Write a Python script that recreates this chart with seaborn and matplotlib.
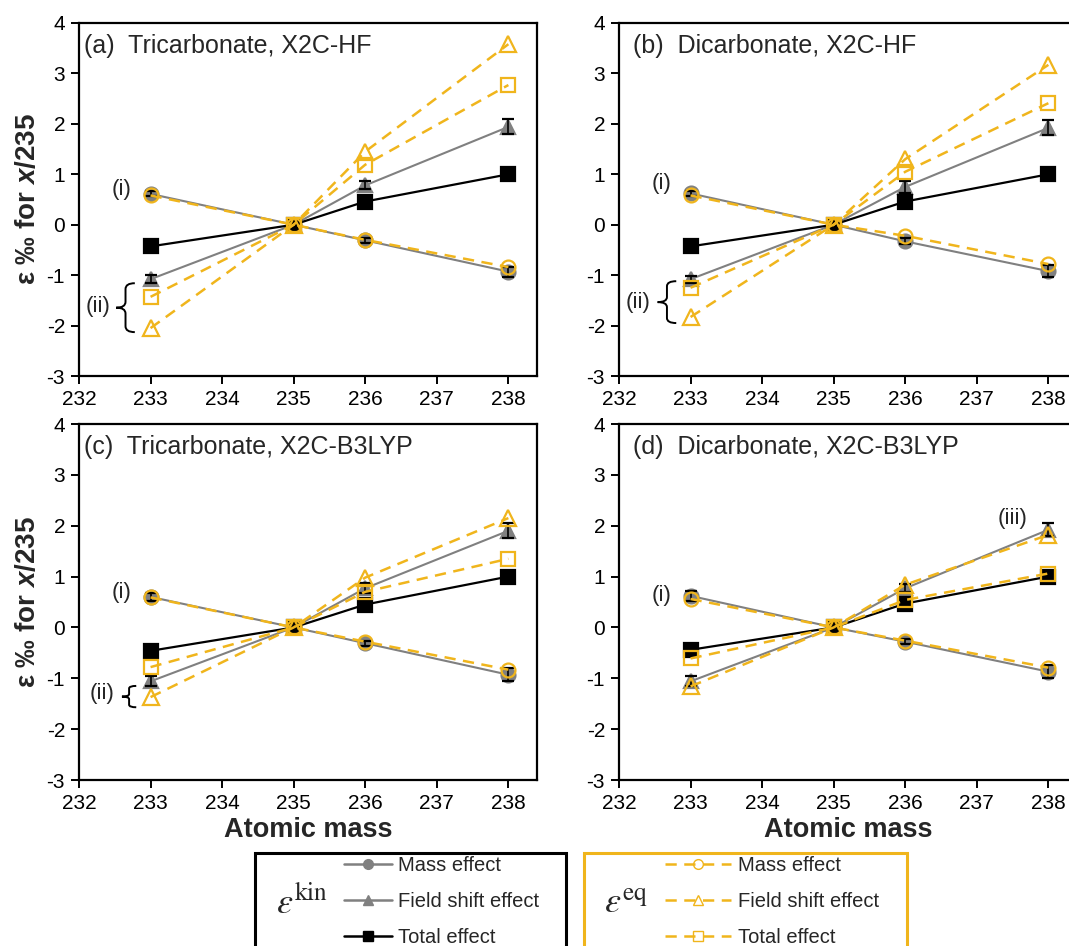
import numpy as np
import pandas as pd
import matplotlib
matplotlib.use("Agg")
import matplotlib.pyplot as plt
from matplotlib.lines import Line2D
from matplotlib.patches import Rectangle, PathPatch
from matplotlib.path import Path
import seaborn as sns

sns.set_style("ticks")
plt.rcParams['font.family'] = ['Liberation Sans', 'DejaVu Sans']
plt.rcParams['axes.unicode_minus'] = False
plt.rcParams['mathtext.fontset'] = 'custom'
plt.rcParams['mathtext.rm'] = 'Liberation Sans'
plt.rcParams['mathtext.it'] = 'Liberation Sans:italic'
plt.rcParams['mathtext.bf'] = 'Liberation Sans:bold'
plt.rcParams['mathtext.bfit'] = 'Liberation Sans:italic:bold'

# ---------------- data ----------------
masses = [233, 235, 236, 238]
panel_titles = ["(a)  Tricarbonate, X2C-HF", "(b)  Dicarbonate, X2C-HF",
                "(c)  Tricarbonate, X2C-B3LYP", "(d)  Dicarbonate, X2C-B3LYP"]

kin_mass = [[0.61, 0, -0.31, -0.93], [0.62, 0, -0.33, -0.92],
            [0.60, 0, -0.31, -0.93], [0.62, 0, -0.28, -0.87]]
kin_field = [[-1.08, 0, 0.78, 1.94], [-1.08, 0, 0.75, 1.92],
             [-1.06, 0, 0.77, 1.90], [-1.06, 0, 0.77, 1.92]]
kin_total = [[-0.43, 0, 0.46, 1.0], [-0.43, 0, 0.46, 1.0],
             [-0.46, 0, 0.45, 1.0], [-0.44, 0, 0.47, 1.0]]
kin_mass_err = [[0.05, 0, 0.05, 0.10], [0.05, 0, 0.06, 0.12],
                [0.08, 0, 0.05, 0.13], [0.10, 0, 0.05, 0.13]]
kin_field_err = [[0.08, 0, 0.08, 0.15], [0.07, 0, 0.12, 0.15],
                 [0.10, 0, 0.10, 0.15], [0.10, 0, 0.08, 0.13]]

eq_mass = [[0.58, 0, -0.30, -0.84], [0.58, 0, -0.22, -0.78],
           [0.59, 0, -0.28, -0.83], [0.56, 0, -0.26, -0.79]]
eq_field = [[-2.05, 0, 1.45, 3.58], [-1.83, 0, 1.30, 3.17],
            [-1.37, 0, 0.98, 2.15], [-1.16, 0, 0.84, 1.82]]
eq_total = [[-1.43, 0, 1.19, 2.77], [-1.25, 0, 1.05, 2.41],
            [-0.78, 0, 0.70, 1.35], [-0.61, 0, 0.54, 1.06]]

legend_labels = ["Mass effect", "Field shift effect", "Total effect"]

GRAY = "#808080"
GOLD = "#F0B51C"

fig = plt.figure(figsize=(10.69, 9.46), dpi=100)
W, H = 1069, 946

def px_axes(l, t, r, b):
    return fig.add_axes([l / W, 1 - b / H, (r - l) / W, (b - t) / H])

axes = [px_axes(79, 23, 537, 376), px_axes(619, 23, 1077, 376),
        px_axes(79, 424, 537, 780), px_axes(619, 424, 1077, 780)]

def brace(ax, x_tip, x_arm, y_top, y_bot):
    ym = (y_top + y_bot) / 2
    xm = (x_tip + x_arm) / 2
    h = (y_top - y_bot)
    c = 0.12 * h
    verts = [(x_arm, y_top), (xm, y_top), (xm, y_top - c),
             (xm, ym + c), (xm, ym), (x_tip, ym),
             (xm, ym), (xm, ym - c),
             (xm, y_bot + c), (xm, y_bot), (x_arm, y_bot)]
    codes = [Path.MOVETO, Path.CURVE3, Path.CURVE3,
             Path.LINETO, Path.CURVE3, Path.CURVE3,
             Path.CURVE3, Path.CURVE3,
             Path.LINETO, Path.CURVE3, Path.CURVE3]
    ax.add_patch(PathPatch(Path(verts, codes), fill=False, lw=1.4,
                           color="black", clip_on=False))

dash = (0, (4.5, 3))

for i, ax in enumerate(axes):
    series = [
        ("kin mass", kin_mass[i], GRAY, "o", GRAY, "-", 10, 1.5),
        ("kin field", kin_field[i], GRAY, "^", GRAY, "-", 10, 1.5),
        ("kin total", kin_total[i], "black", "s", "black", "-", 10.5, 1.6),
        ("eq mass", eq_mass[i], GOLD, "o", "none", dash, 10, 1.8),
        ("eq field", eq_field[i], GOLD, "^", "none", dash, 11, 1.8),
        ("eq total", eq_total[i], GOLD, "s", "none", dash, 10, 1.8),
    ]
    for name, vals, col, mk, mfc, ls, ms, lw in series:
        df = pd.DataFrame({"mass": masses, "eps": vals})
        sns.lineplot(data=df, x="mass", y="eps", ax=ax, color=col, marker=mk,
                     markerfacecolor=mfc, markeredgecolor=col, markersize=ms,
                     markeredgewidth=1.6, linestyle=ls, linewidth=lw,
                     errorbar=None, zorder=3 if name.startswith("kin") else 4)
        if name == "kin mass":
            ax.errorbar(masses, vals, yerr=kin_mass_err[i], fmt="none",
                        ecolor="black", elinewidth=1.2, capsize=4, capthick=1.6,
                        zorder=3.5)
        if name == "kin field":
            ax.errorbar(masses, vals, yerr=kin_field_err[i], fmt="none",
                        ecolor="black", elinewidth=1.2, capsize=4, capthick=1.6,
                        zorder=3.5)

    ax.set_xlim(232, 238.4)
    ax.set_ylim(-3, 4)
    ax.set_xticks([232, 233, 234, 235, 236, 237, 238])
    ax.set_yticks([-3, -2, -1, 0, 1, 2, 3, 4])
    ax.tick_params(direction="out", length=6, width=1.4, labelsize=15, pad=4,
                   colors="black")
    for s in ax.spines.values():
        s.set_visible(True)
        s.set_linewidth(1.6)
        s.set_color("black")
    ax.set_xlabel("")
    ax.set_ylabel("")
    tx = 0.01 if i in (0, 2) else 0.03
    ax.text(tx, 0.935, panel_titles[i], transform=ax.transAxes, fontsize=18,
            ha="left", va="center")

# annotations
axes[0].text(232.6, 0.70, "(i)", fontsize=16, ha="center", va="center")
axes[0].text(232.27, -1.63, "(ii)", fontsize=16, ha="center", va="center")
brace(axes[0], 232.52, 232.78, -1.16, -2.13)

axes[1].text(232.6, 0.82, "(i)", fontsize=16, ha="center", va="center")
axes[1].text(232.27, -1.54, "(ii)", fontsize=16, ha="center", va="center")
brace(axes[1], 232.54, 232.8, -1.12, -1.95)

axes[2].text(232.6, 0.68, "(i)", fontsize=16, ha="center", va="center")
axes[2].text(232.32, -1.3, "(ii)", fontsize=16, ha="center", va="center")
brace(axes[2], 232.6, 232.8, -1.15, -1.57)

axes[3].text(232.6, 0.62, "(i)", fontsize=16, ha="center", va="center")
axes[3].text(237.5, 2.15, "(iii)", fontsize=16, ha="center", va="center")

for ax in (axes[0], axes[2]):
    ax.set_ylabel(r"ε ‰ for $\mathbfit{x}$/235", fontsize=20,
                  fontweight="bold", labelpad=4)
for ax in (axes[2], axes[3]):
    ax.set_xlabel("Atomic mass", fontsize=19.5, fontweight="bold", labelpad=3)

# legend boxes
fig.patches.append(Rectangle((255 / W, -0.05), (566 - 255) / W, 1 - 853 / H + 0.05,
                             transform=fig.transFigure, fill=False,
                             edgecolor="black", lw=2.2, clip_on=False))
fig.patches.append(Rectangle((584 / W, -0.05), (907 - 584) / W, 1 - 853 / H + 0.05,
                             transform=fig.transFigure, fill=False,
                             edgecolor=GOLD, lw=2.2, clip_on=False))

kin_handles = [
    Line2D([], [], color=GRAY, marker="o", ms=7, mfc=GRAY, mec=GRAY, lw=1.8),
    Line2D([], [], color=GRAY, marker="^", ms=7, mfc=GRAY, mec=GRAY, lw=1.8),
    Line2D([], [], color="black", marker="s", ms=7, mfc="black", mec="black", lw=1.8),
]
eq_handles = [
    Line2D([], [], color=GOLD, marker="o", ms=7, mfc="none", mec=GOLD, lw=1.8, ls=dash),
    Line2D([], [], color=GOLD, marker="^", ms=7, mfc="none", mec=GOLD, lw=1.8, ls=dash),
    Line2D([], [], color=GOLD, marker="s", ms=7, mfc="none", mec=GOLD, lw=1.8, ls=dash),
]
leg1 = fig.legend(kin_handles, legend_labels, loc="upper left",
                  bbox_to_anchor=(344 / W, 1 - 856 / H), frameon=False,
                  fontsize=14.5, handlelength=2.4, handletextpad=0.3,
                  labelspacing=0.85, borderpad=0, borderaxespad=0)
leg2 = fig.legend(eq_handles, legend_labels, loc="upper left",
                  bbox_to_anchor=(665 / W, 1 - 856 / H), frameon=False,
                  fontsize=14.5, handlelength=3.3, handletextpad=0.3,
                  labelspacing=0.85, borderpad=0, borderaxespad=0)

fig.text(276 / W, 1 - 903 / H, r"$\varepsilon^{\mathrm{kin}}$", fontsize=26,
         ha="left", va="center", math_fontfamily="stix")
fig.text(604 / W, 1 - 903 / H, r"$\varepsilon^{\mathrm{eq}}$", fontsize=26,
         ha="left", va="center", math_fontfamily="stix")

fig.savefig("out.png", dpi=100)
